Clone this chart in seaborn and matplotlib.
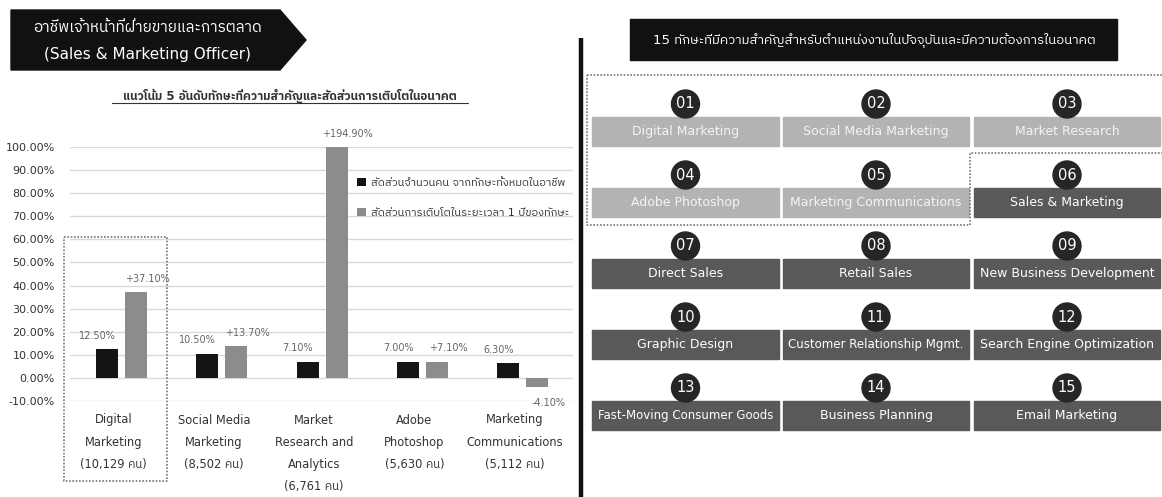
import matplotlib
matplotlib.use("Agg")
import matplotlib.pyplot as plt
import matplotlib.patches as mpatches
import matplotlib.transforms as mtransforms
from matplotlib import font_manager
from matplotlib.ft2font import FT2Font
import pandas as pd
import seaborn as sns

# ---------------- data ----------------
skills_top5 = [
    "Digital\nMarketing\n(10,129 คน)",
    "Social Media\nMarketing\n(8,502 คน)",
    "Market\nResearch and\nAnalytics\n(6,761 คน)",
    "Adobe\nPhotoshop\n(5,630 คน)",
    "Marketing\nCommunications\n(5,112 คน)",
]
share_of_people = [12.5, 10.5, 7.1, 7.0, 6.3]
growth_one_year = [37.1, 13.7, 194.9, 7.1, -4.1]
series_names = [
    "สัดส่วนจำนวนคน จากทักษะทั้งหมดในอาชีพ",
    "สัดส่วนการเติบโตในระยะเวลา 1 ปีของทักษะ",
]
y_ticks = [-10, 0, 10, 20, 30, 40, 50, 60, 70, 80, 90, 100]

skills_15 = [
    "Digital Marketing", "Social Media Marketing", "Market Research",
    "Adobe Photoshop", "Marketing Communications", "Sales & Marketing",
    "Direct Sales", "Retail Sales", "New Business Development",
    "Graphic Design", "Customer Relationship Mgmt.", "Search Engine Optimization",
    "Fast-Moving Consumer Goods", "Business Planning", "Email Marketing",
]
highlighted_count = 5

banner_title = ["อาชีพเจ้าหน้าที่ฝ่ายขายและการตลาด", "(Sales & Marketing Officer)"]
chart_title = "แนวโน้ม 5 อันดับทักษะที่ความสำคัญและสัดส่วนการเติบโตในอนาคต"
panel_title = "15 ทักษะที่มีความสำคัญสำหรับตำแหน่งงานในปัจจุบันและมีความต้องการในอนาคต"


# ---------------- fonts ----------------
def thai_capable_family():
    preferred, others = [], []
    for f in font_manager.fontManager.ttflist:
        try:
            ft = FT2Font(f.fname)
            if ft.get_char_index(0x0E01) and ft.get_char_index(0x0E32):
                if any(k in f.name for k in ("Thai", "Loma", "Garuda")):
                    preferred.append(f.name)
                else:
                    others.append(f.name)
        except Exception:
            continue
    for group in (preferred, others):
        if group:
            return sorted(set(group))[0]
    return None


sns.set_theme(style="white")
thai_family = thai_capable_family()
families = ["DejaVu Sans"] + ([thai_family] if thai_family else [])
plt.rcParams["font.family"] = families

W, H = 1162, 497
fig = plt.figure(figsize=(W / 100, H / 100), dpi=100)
fig.patch.set_facecolor("white")

# ---------------- bar chart ----------------
ax = fig.add_axes([70 / W, (H - 401) / H, 503 / W, 254 / H])

df = pd.DataFrame({
    "skill": skills_top5 * 2,
    "value": share_of_people + growth_one_year,
    "series": [series_names[0]] * 5 + [series_names[1]] * 5,
})
palette = {series_names[0]: "#141414", series_names[1]: "#8c8c8c"}
sns.barplot(data=df, x="skill", y="value", hue="series", palette=palette,
            width=0.58, gap=0.24, ax=ax, saturation=1, edgecolor="none",
            legend=True, zorder=3)

ax.set_ylim(-10, 100)
ax.set_xlim(-0.513, 4.50)
ax.set_yticks(y_ticks)
ax.set_yticklabels([f"{v:.2f}%" for v in y_ticks], fontsize=8, color="#333333")
ax.yaxis.grid(True, color="#d9d9d9", lw=1, zorder=0)
ax.xaxis.grid(False)
for s in ax.spines.values():
    s.set_visible(False)
ax.tick_params(axis="y", length=0, pad=11)
ax.tick_params(axis="x", length=0, pad=9)
ax.set_xlabel("")
ax.set_ylabel("")
for lbl in ax.get_xticklabels():
    lbl.set_fontsize(8.3)
    lbl.set_color("#333333")
    lbl.set_linespacing(1.93)
    lbl.set_transform(lbl.get_transform() +
                      mtransforms.ScaledTranslation(-8 / 100, 0, fig.dpi_scale_trans))

# value labels (dark series nudged left, grey series nudged right)
for cont, vals, prefix, dx in zip(ax.containers, [share_of_people, growth_one_year],
                                  ["", "+"], [-7, 8]):
    for bar, v in zip(cont, vals):
        xc = bar.get_x() + bar.get_width() / 2
        if v >= 0:
            ax.annotate(f"{prefix}{v:.2f}%", (xc, min(v, 100)), xytext=(dx, 6),
                        textcoords="offset points", ha="center", va="bottom",
                        fontsize=7, color="#666666", annotation_clip=False)
        else:
            ax.annotate(f"{v:.2f}%", (xc, v), xytext=(dx, -8),
                        textcoords="offset points", ha="center", va="top",
                        fontsize=7, color="#666666", annotation_clip=False)

handles, labels = ax.get_legend_handles_labels()
leg = ax.legend(handles, labels, loc="upper left", bbox_to_anchor=(0.56, 0.90),
                frameon=False, fontsize=8, handlelength=0.8, handleheight=0.8,
                handletextpad=0.4, labelspacing=1.75, borderpad=0)
for t in leg.get_texts():
    t.set_color("#333333")
    t.set_clip_on(True)
    t.set_clip_box(ax.bbox)

# ---------------- overlay in pixel coordinates ----------------
ov = fig.add_axes([0, 0, 1, 1], zorder=5)
ov.set_xlim(0, W)
ov.set_ylim(H, 0)
ov.axis("off")
ov.patch.set_alpha(0)

# banner
ov.add_patch(mpatches.Polygon([(11, 10), (280, 10), (306, 40), (280, 70), (11, 70)],
                              closed=True, color="#111111"))
ov.text(148, 28, banner_title[0], ha="center", va="center", color="white", fontsize=11)
ov.text(148, 55, banner_title[1], ha="center", va="center", color="white", fontsize=11)
ov.text(290, 96, chart_title, ha="center", va="center", color="#333333",
        fontsize=8.5, fontweight="bold")
ov.plot([112, 468], [103, 103], color="#333333", lw=0.8)

# dotted highlight around first category
ov.add_patch(mpatches.Rectangle((64, 237), 103, 244, fill=False,
                                edgecolor="#777777", lw=1.2, ls=(0, (1, 1))))

# separator
ov.plot([580.5, 580.5], [38, H], color="#111111", lw=3.2, solid_capstyle="butt")

# right panel title
ov.add_patch(mpatches.Rectangle((630, 19), 487, 41, color="#111111"))
ov.text(874, 40, panel_title, ha="center", va="center", color="white", fontsize=9.5)

# skill grid
col_x = [(592, 779), (783, 969), (974, 1160)]
row_top = [117, 188, 259, 330, 401]
box_h = 29
fig.canvas.draw()
renderer = fig.canvas.get_renderer()
for i, name in enumerate(skills_15):
    r, c = divmod(i, 3)
    x0, x1 = col_x[c]
    y0 = row_top[r]
    face = "#b3b3b3" if i < highlighted_count else "#595959"
    ov.add_patch(mpatches.Rectangle((x0, y0), x1 - x0, box_h, color=face))
    cx = (x0 + x1) / 2
    ov.add_patch(mpatches.Circle((cx, y0 - 13), 14, color="#262626", zorder=4))
    ov.text(cx, y0 - 13, f"{i + 1:02d}", ha="center", va="center", color="white",
            fontsize=10.5, zorder=5)
    fs = 9
    t = ov.text(cx, y0 + box_h / 2, name, ha="center", va="center",
                color="white" if i >= highlighted_count else "#f4f4f4", fontsize=fs)
    while t.get_window_extent(renderer).width > (x1 - x0) - 10 and fs > 6:
        fs -= 0.25
        t.set_fontsize(fs)

# dotted outline around the top five
outline = [(587, 75), (1170, 75), (1170, 153), (970, 153), (970, 225), (587, 225)]
ov.add_patch(mpatches.Polygon(outline, closed=True, fill=False,
                              edgecolor="#777777", lw=1.2, ls=(0, (1, 1))))

fig.savefig("out.png", dpi=100, facecolor="white")
